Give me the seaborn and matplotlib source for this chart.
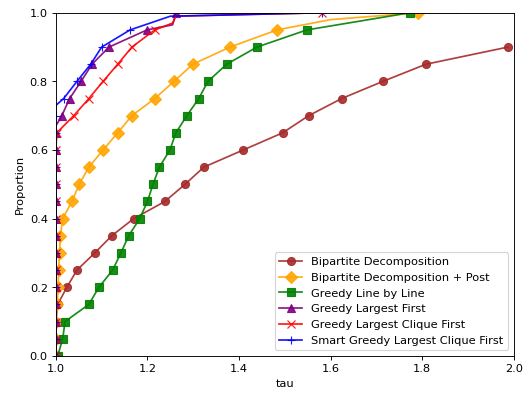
import numpy as np
import pandas as pd
import matplotlib
matplotlib.use('Agg')
import matplotlib.pyplot as plt
import seaborn as sns

# performance profile: tau where each proportion level is reached
bd_tau = [1.0, 1.0, 1.0, 1.004, 1.024, 1.046, 1.085, 1.122, 1.170, 1.238, 1.282,
          1.323, 1.409, 1.495, 1.552, 1.624, 1.714, 1.808, 1.987]
bd_prop = [0.0, 0.05, 0.1, 0.15, 0.2, 0.25, 0.3, 0.35, 0.4, 0.45, 0.5,
           0.55, 0.6, 0.65, 0.7, 0.75, 0.8, 0.85, 0.9]

bdp_tau = [1.0, 1.0, 1.0, 1.003, 1.005, 1.006, 1.008, 1.010, 1.015, 1.035, 1.051,
           1.072, 1.103, 1.135, 1.166, 1.216, 1.258, 1.299, 1.380, 1.483, 1.60, 1.79, 1.94]
bdp_prop = [0.0, 0.05, 0.1, 0.15, 0.2, 0.25, 0.3, 0.35, 0.4, 0.45, 0.5,
            0.55, 0.6, 0.65, 0.7, 0.75, 0.8, 0.85, 0.9, 0.95, 0.98, 1.0, 1.0]

gll_tau = [1.004, 1.015, 1.020, 1.072, 1.094, 1.124, 1.142, 1.159, 1.183, 1.200, 1.212,
           1.226, 1.249, 1.262, 1.286, 1.312, 1.332, 1.373, 1.439, 1.548, 1.773, 1.88]
gll_prop = [0.0, 0.05, 0.1, 0.15, 0.2, 0.25, 0.3, 0.35, 0.4, 0.45, 0.5,
            0.55, 0.6, 0.65, 0.7, 0.75, 0.8, 0.85, 0.9, 0.95, 1.0, 1.0]

glf_tau = [1.0, 1.0, 1.0, 1.0, 1.0, 1.0, 1.0, 1.0, 1.0, 1.0, 1.0, 1.0, 1.0, 1.0, 1.0,
           1.013, 1.030, 1.055, 1.079, 1.116, 1.199, 1.255, 1.262]
glf_prop = [0.0, 0.05, 0.1, 0.15, 0.2, 0.25, 0.3, 0.35, 0.4, 0.45, 0.5, 0.55, 0.6, 0.65, 0.67,
            0.7, 0.75, 0.8, 0.85, 0.9, 0.95, 0.965, 1.0]

glcf_tau = [1.0, 1.0, 1.0, 1.0, 1.0, 1.0, 1.0, 1.0, 1.0, 1.0, 1.0, 1.0, 1.0,
            1.002, 1.039, 1.072, 1.103, 1.135, 1.166, 1.216, 1.255, 1.262, 1.58]
glcf_prop = [0.0, 0.05, 0.1, 0.15, 0.2, 0.25, 0.3, 0.35, 0.4, 0.45, 0.5, 0.55, 0.6,
             0.65, 0.7, 0.75, 0.8, 0.85, 0.9, 0.95, 0.97, 0.99, 1.0]

sglcf_tau = [1.0, 1.0, 1.0, 1.0, 1.0, 1.0, 1.0, 1.0, 1.0, 1.0, 1.0, 1.0, 1.0, 1.0, 1.0, 1.0,
             1.017, 1.046, 1.076, 1.100, 1.162, 1.25, 1.58]
sglcf_prop = [0.0, 0.05, 0.1, 0.15, 0.2, 0.25, 0.3, 0.35, 0.4, 0.45, 0.5, 0.55, 0.6, 0.65, 0.7, 0.73,
              0.75, 0.8, 0.85, 0.9, 0.95, 0.99, 1.0]

series = [
    ('Bipartite Decomposition', bd_tau, bd_prop, 'brown', 'o'),
    ('Bipartite Decomposition + Post', bdp_tau, bdp_prop, 'orange', 'D'),
    ('Greedy Line by Line', gll_tau, gll_prop, 'green', 's'),
    ('Greedy Largest First', glf_tau, glf_prop, 'purple', '^'),
    ('Greedy Largest Clique First', glcf_tau, glcf_prop, 'red', 'x'),
    ('Smart Greedy Largest Clique First', sglcf_tau, sglcf_prop, 'blue', '+'),
]


def marker_idx(props):
    # one marker at the first point of each 0.05 level
    idx, seen = [], set()
    for i, p in enumerate(props):
        k = round(p * 20, 6)
        if k == int(k) and k not in seen:
            idx.append(i)
            seen.add(k)
    return idx


fig, ax = plt.subplots(figsize=(6.4, 4.8), dpi=82.35)
for name, tau, prop, color, mk in series:
    df = pd.DataFrame({'tau': tau, 'prop': prop})
    sns.lineplot(data=df, x='tau', y='prop', ax=ax, sort=False, estimator=None,
                 color=color, marker=mk, markevery=marker_idx(prop), markersize=7,
                 markeredgecolor=color, markeredgewidth=1.0, linewidth=1.5,
                 alpha=0.9, label=name)

ax.set_xlim(1.0, 2.0)
ax.set_ylim(0.0, 1.0)
ax.set_xlabel('tau')
ax.set_ylabel('Proportion')
ax.legend(loc='lower right')
plt.subplots_adjust(left=0.106, right=0.975, top=0.967, bottom=0.099)
plt.savefig('out.png')
